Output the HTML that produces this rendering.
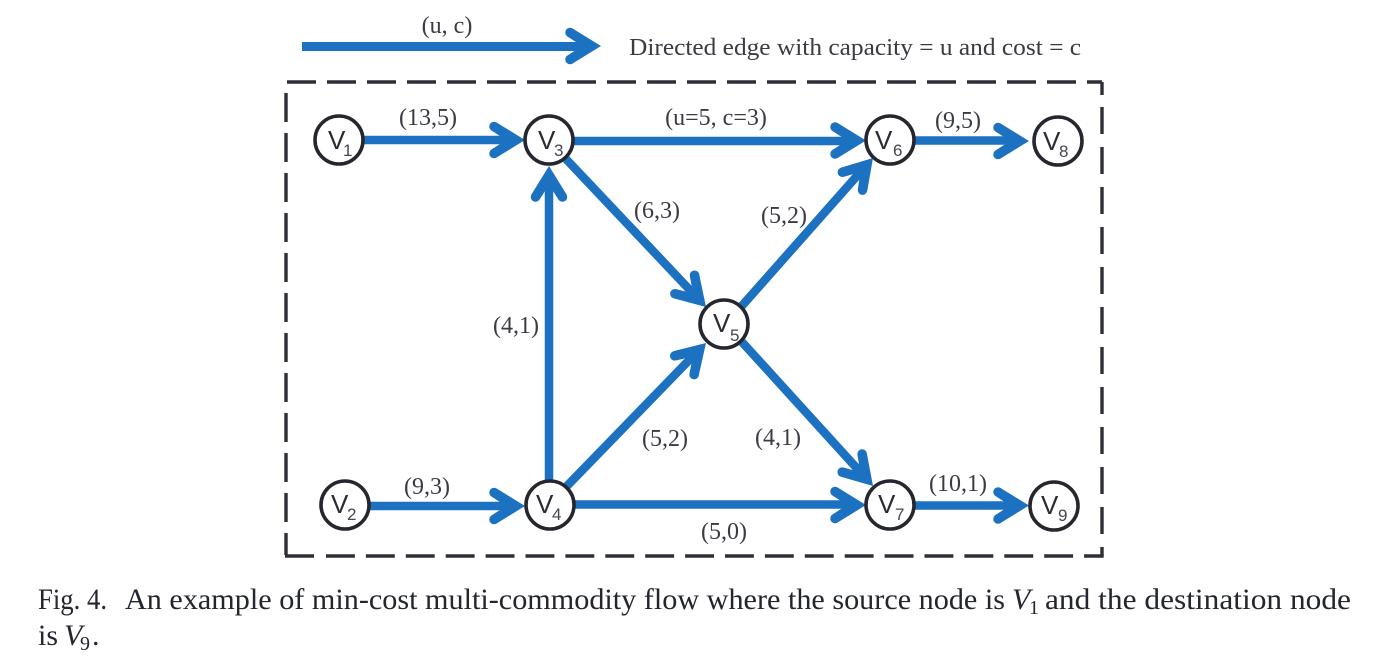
<!DOCTYPE html>
<html><head><meta charset="utf-8"><style>
html,body{margin:0;padding:0;background:#fff;width:1380px;height:658px;overflow:hidden}
svg{display:block}
.l{font-family:"Liberation Serif",serif;font-size:24px;fill:#3a3b43;text-anchor:middle}
.n{font-family:"Liberation Sans",sans-serif;font-size:26px;fill:#2a2b33}
.s{font-family:"Liberation Sans",sans-serif;font-size:17px;fill:#46474e}
.c{font-family:"Liberation Serif",serif;font-size:30px;fill:#23252f}
.e{stroke:#1c71c0;stroke-width:8.500;fill:none}
.o{fill:#fff;stroke:#26272e;stroke-width:3.600}
.d{stroke:#2d2e36;stroke-width:3.400;fill:none}
</style></head><body>
<svg width="1380" height="658" viewBox="0 0 1380 658" xmlns="http://www.w3.org/2000/svg">
<defs>
<g id="a" fill="#1c71c0">
<polygon points="0,0 -28.400,-17.500 -33.600,-9.500 -18.800,0 -33.600,9.500 -28.400,17.500"/>
<circle cx="-31" cy="-13.500" r="4.750"/>
<circle cx="-31" cy="13.500" r="4.750"/>
</g>
</defs>
<path class="d" d="M287 82H1102" stroke-dasharray="29 11"/>
<path class="d" d="M1102 82V555.700" stroke-dasharray="13 12 27 13 27 13 27 13 27 13 27 13 27 13 27 13 27 13 27 13 27 13 27 13 27 13"/>
<path class="d" d="M286 93V555" stroke-dasharray="29 11"/>
<path class="d" d="M285 556H314"/>
<path class="d" d="M326 556H1103.700" stroke-dasharray="28.900 11"/>

<path class="e" d="M302 46.500H585" style="stroke-width:9"/>
<use href="#a" transform="translate(601 46)"/>

<path class="e" d="M360 140H512"/>
<use href="#a" transform="translate(525 140)"/>
<path class="e" d="M574 141H853"/>
<use href="#a" transform="translate(866 140.500)"/>
<path class="e" d="M912 140.500H1016"/>
<use href="#a" transform="translate(1029 141)"/>
<path class="e" d="M365 506H512"/>
<use href="#a" transform="translate(525 506)"/>
<path class="e" d="M573 504.500H853"/>
<use href="#a" transform="translate(866 505)"/>
<path class="e" d="M912 505.500H1016"/>
<use href="#a" transform="translate(1029 505.500)"/>
<path class="e" d="M549 482V180"/>
<use href="#a" transform="translate(549 166) rotate(-90)"/>
<path class="e" d="M566 159L696 296.500"/>
<use href="#a" transform="translate(706 307) rotate(46.600)"/>
<path class="e" d="M740 308L864 168"/>
<use href="#a" transform="translate(873 158) rotate(-48.400)"/>
<path class="e" d="M566 487L696 353"/>
<use href="#a" transform="translate(706 343) rotate(-45.800)"/>
<path class="e" d="M742 342L863 475"/>
<use href="#a" transform="translate(873 486) rotate(47.700)"/>

<g>
<circle class="o" cx="339" cy="140" r="24"/><text class="n" x="328" y="149">V</text><text class="s" x="343" y="156">1</text>
<circle class="o" cx="549" cy="140" r="24"/><text class="n" x="538" y="149">V</text><text class="s" x="554" y="156">3</text>
<circle class="o" cx="890" cy="140" r="24"/><text class="n" x="875" y="149">V</text><text class="s" x="893" y="156">6</text>
<circle class="o" cx="1058" cy="141" r="24"/><text class="n" x="1043" y="150">V</text><text class="s" x="1059" y="157">8</text>
<circle class="o" cx="345" cy="505" r="24"/><text class="n" x="331" y="513">V</text><text class="s" x="347" y="520">2</text>
<circle class="o" cx="550" cy="505" r="24"/><text class="n" x="536" y="513">V</text><text class="s" x="552" y="520">4</text>
<circle class="o" cx="890" cy="505" r="24"/><text class="n" x="878" y="513">V</text><text class="s" x="895" y="520">7</text>
<circle class="o" cx="1054" cy="506" r="24"/><text class="n" x="1041" y="514">V</text><text class="s" x="1058" y="521">9</text>
<circle class="o" cx="724" cy="324" r="24"/><text class="n" x="713" y="332">V</text><text class="s" x="730" y="341">5</text>
</g>

<text class="l" x="447" y="33">(u, c)</text>
<text class="l" x="855" y="55" textLength="452" lengthAdjust="spacingAndGlyphs">Directed edge with capacity = u and cost = c</text>
<text class="l" x="428" y="125">(13,5)</text>
<text class="l" x="716" y="125">(u=5, c=3)</text>
<text class="l" x="958" y="128">(9,5)</text>
<text class="l" x="657" y="218">(6,3)</text>
<text class="l" x="784" y="223">(5,2)</text>
<text class="l" x="516" y="333">(4,1)</text>
<text class="l" x="665" y="446">(5,2)</text>
<text class="l" x="778" y="445">(4,1)</text>
<text class="l" x="427" y="494">(9,3)</text>
<text class="l" x="958" y="491">(10,1)</text>
<text class="l" x="724" y="539">(5,0)</text>

<text class="c" x="38" y="609" textLength="69" lengthAdjust="spacingAndGlyphs">Fig. 4.</text>
<text class="c" x="125" y="609" textLength="880" lengthAdjust="spacingAndGlyphs">An example of min-cost multi-commodity flow where the source node is</text>
<text class="c" x="1012" y="609" font-style="italic">V</text>
<text class="c" x="1029" y="614" style="font-size:20px">1</text>
<text class="c" x="1045" y="609" textLength="306" lengthAdjust="spacingAndGlyphs">and the destination node</text>
<text class="c" x="38" y="645">is</text>
<text class="c" x="64" y="645" font-style="italic">V</text>
<text class="c" x="80" y="650" style="font-size:20px">9</text>
<text class="c" x="92" y="645">.</text>
</svg>
</body></html>
